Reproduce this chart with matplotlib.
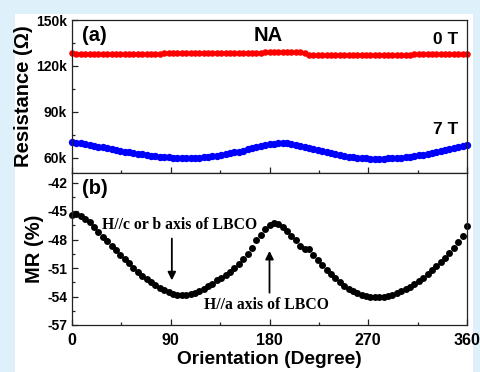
import matplotlib
matplotlib.use("Agg")
import matplotlib.pyplot as plt
from matplotlib.patches import Rectangle
from matplotlib.ticker import MultipleLocator

plt.rcParams['font.family'] = ['Liberation Sans', 'DejaVu Sans']
plt.rcParams['font.weight'] = 'bold'

# ---------------- data ----------------
angles = list(range(0, 361, 4))

res_0T = [128.3, 128.1, 128.0, 127.9, 127.8, 127.8, 127.7, 127.7, 127.7, 127.8,
          127.8, 127.8, 127.9, 127.9, 127.9, 128.0, 128.0, 128.0, 128.1, 128.1,
          128.1, 128.2, 128.2, 128.2, 128.3, 128.3, 128.3, 128.3, 128.4, 128.4,
          128.4, 128.4, 128.5, 128.5, 128.5, 128.5, 128.6, 128.6, 128.6, 128.6,
          128.7, 128.7, 128.7, 128.7, 128.8, 128.8, 128.8, 128.8, 128.9, 128.9,
          128.9, 128.9, 128.9, 128.6, 127.3, 127.2, 127.2, 127.1, 127.1, 127.1,
          127.1, 127.1, 127.1, 127.1, 127.1, 127.2, 127.2, 127.2, 127.2, 127.2,
          127.2, 127.3, 127.3, 127.3, 127.3, 127.4, 127.4, 127.4, 127.5, 127.5,
          127.5, 127.5, 127.6, 127.6, 127.6, 127.7, 127.7, 127.7, 127.8, 127.8,
          127.8]

res_7T = [70.0, 69.7, 69.3, 68.9, 68.4, 67.9, 67.3, 66.8, 66.2, 65.6,
          65.1, 64.5, 64.0, 63.5, 63.0, 62.6, 62.1, 61.7, 61.3, 61.0,
          60.7, 60.4, 60.2, 60.0, 59.9, 59.8, 59.8, 59.8, 59.9, 60.0,
          60.2, 60.5, 60.8, 61.2, 61.7, 62.2, 62.8, 63.4, 64.0, 64.7,
          65.4, 66.1, 66.8, 67.5, 68.1, 68.7, 69.2, 69.5, 69.5, 69.3,
          68.9, 68.4, 67.9, 67.2, 66.5, 65.8, 65.0, 64.2, 63.5, 62.8,
          62.2, 61.6, 61.1, 60.6, 60.2, 59.9, 59.7, 59.5, 59.4, 59.4,
          59.4, 59.4, 59.5, 59.6, 59.8, 60.0, 60.3, 60.6, 61.0, 61.5,
          62.0, 62.5, 63.1, 63.7, 64.4, 65.0, 65.7, 66.4, 67.1, 67.8,
          68.5]

mr = [-45.4, -45.3, -45.5, -45.8, -46.2, -46.7, -47.2, -47.7, -48.2, -48.7,
      -49.1, -49.6, -50.1, -50.5, -51.0, -51.4, -51.8, -52.2, -52.5, -52.8,
      -53.1, -53.3, -53.5, -53.7, -53.8, -53.8, -53.8, -53.7, -53.6, -53.4,
      -53.2, -52.9, -52.7, -52.3, -52.0, -51.7, -51.4, -51.0, -50.6, -50.0,
      -49.5, -48.9, -48.1, -47.5, -46.9, -46.5, -46.3, -46.4, -46.7, -47.1,
      -47.6, -48.1, -48.7, -49.0, -49.0, -49.6, -50.2, -50.7, -51.2, -51.6,
      -52.1, -52.5, -52.9, -53.2, -53.4, -53.6, -53.8, -53.9, -54.0, -54.0,
      -54.0, -54.0, -53.9, -53.8, -53.6, -53.4, -53.2, -53.0, -52.7, -52.4,
      -52.0, -51.6, -51.2, -50.8, -50.4, -49.9, -49.4, -48.9, -48.3, -47.6,
      -46.6]

x_ticks = [0, 90, 180, 270, 360]
res_ticks = [60, 90, 120, 150]
res_tick_labels = ['60k', '90k', '120k', '150k']
mr_ticks = [-57, -54, -51, -48, -45, -42]
mr_tick_labels = ['-57', '-54', '-51', '-48', '-45', '-42']

# ---------------- figure ----------------
fig = plt.figure(figsize=(4.8, 3.72), dpi=100)
fig.patch.set_facecolor('#def1fa')
bg = Rectangle((15 / 480, 0), 458 / 480, 358 / 372,
               transform=fig.transFigure, facecolor='white',
               edgecolor='none', zorder=-10)
fig.add_artist(bg)

L, R = 72 / 480, 467 / 480
y_top, y_mid, y_bot = 1 - 20 / 372, 1 - 173 / 372, 1 - 325 / 372
ax1 = fig.add_axes([L, y_mid, R - L, y_top - y_mid])
ax2 = fig.add_axes([L, y_bot, R - L, y_mid - y_bot], sharex=ax1)

for ax in (ax1, ax2):
    ax.set_zorder(1)
    for s in ax.spines.values():
        s.set_linewidth(0.9)
        s.set_color('#222222')
    ax.tick_params(which='both', direction='in', color='#222222')
    ax.tick_params(axis='y', labelsize=10, pad=3.5)
    ax.tick_params(axis='x', labelsize=11.5, pad=5.5)
    ax.tick_params(which='major', length=4, width=0.9)
    ax.tick_params(which='minor', length=2.5, width=0.9)
    ax.xaxis.set_minor_locator(MultipleLocator(45))

# top panel
ax1.plot(angles, res_0T, 'o', color='#ff0000', markersize=4.7,
         markeredgewidth=0, clip_on=False)
ax1.plot(angles, res_7T, 'o', color='#0000ff', markersize=5.3,
         markeredgewidth=0, clip_on=False)
ax1.set_xlim(0, 360)
ax1.set_ylim(50, 150)
ax1.set_yticks(res_ticks)
ax1.set_yticklabels(res_tick_labels)
ax1.yaxis.set_minor_locator(MultipleLocator(15))
ax1.tick_params(axis='x', labelbottom=False)
ax1.set_ylabel('Resistance (\u03a9)', fontsize=14.5, fontweight='bold', labelpad=2)
ax1.text(0.025, 0.9, '(a)', transform=ax1.transAxes, fontsize=14.5,
         fontweight='bold', va='center', ha='left')
ax1.text(0.497, 0.9, 'NA', transform=ax1.transAxes, fontsize=14.5,
         fontweight='bold', va='center', ha='center')
ax1.text(0.978, 0.87, '0 T', transform=ax1.transAxes, fontsize=12.5,
         fontweight='bold', va='center', ha='right')
ax1.text(0.978, 0.285, '7 T', transform=ax1.transAxes, fontsize=12.5,
         fontweight='bold', va='center', ha='right')

# bottom panel
ax2.plot(angles, mr, 'o', color='black', markersize=5,
         markeredgewidth=0, clip_on=False)
ax2.set_ylim(-57, -41)
ax2.set_yticks(mr_ticks)
ax2.set_yticklabels(mr_tick_labels)
ax2.yaxis.set_minor_locator(MultipleLocator(1.5))
ax2.set_xticks(x_ticks)
ax2.set_xticklabels([str(v) for v in x_ticks])
ax2.set_ylabel('MR (%)', fontsize=14.5, fontweight='bold', labelpad=2)
ax2.set_xlabel('Orientation (Degree)', fontsize=13.8, fontweight='bold', labelpad=2.5)
ax2.text(0.025, 0.9, '(b)', transform=ax2.transAxes, fontsize=14.5,
         fontweight='bold', va='center', ha='left')

serif = ['Liberation Serif', 'DejaVu Serif']
ax2.text(98, -46.45, 'H//c or b axis of LBCO', family=serif, fontsize=11.3,
         fontweight='bold', ha='center', va='center')
ax2.text(177, -54.9, 'H//a axis of LBCO', family=serif, fontsize=11.3,
         fontweight='bold', ha='center', va='center')
ax2.annotate('', xy=(91, -52.3), xytext=(91, -47.9),
             arrowprops=dict(arrowstyle='-|>', color='black', lw=1.3,
                             mutation_scale=12, shrinkA=0, shrinkB=0))
ax2.annotate('', xy=(180, -49.2), xytext=(180, -53.6),
             arrowprops=dict(arrowstyle='-|>', color='black', lw=1.3,
                             mutation_scale=12, shrinkA=0, shrinkB=0))

fig.savefig('out.png', dpi=100, facecolor=fig.get_facecolor())
